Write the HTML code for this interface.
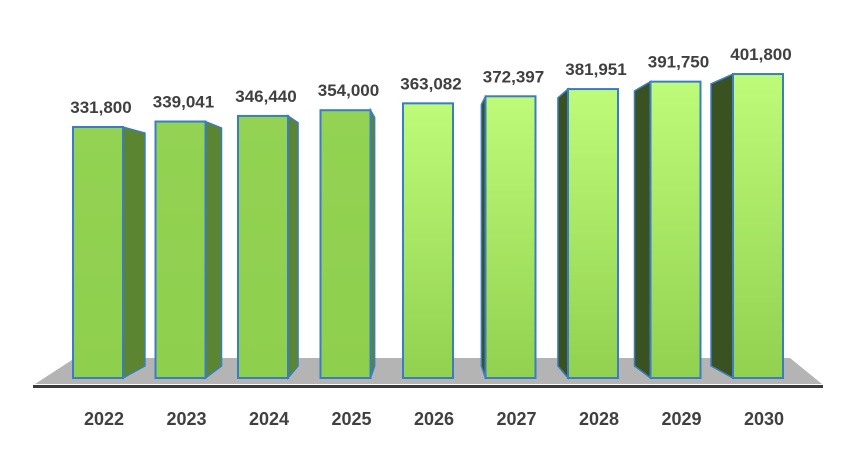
<!DOCTYPE html>
<html><head><meta charset="utf-8"><style>
body{margin:0;background:#fff}
svg{display:block;font-family:"Liberation Sans",Arial,sans-serif}
</style></head><body>
<svg id="chart" width="856" height="450" viewBox="0 0 856 450">
<defs>
<linearGradient id="gl" x1="0" y1="0" x2="0" y2="1"><stop offset="0" stop-color="#93d252"/><stop offset="1" stop-color="#8fcf4e"/></linearGradient>
<linearGradient id="gr" x1="0" y1="0" x2="0" y2="1"><stop offset="0" stop-color="#bdfb78"/><stop offset="1" stop-color="#92d050"/></linearGradient>
</defs>
<polygon points="75,358 790,358 822,384 35,384" fill="#b4b4b4"/>
<rect x="33" y="385" width="790" height="3" fill="#3a3a3a"/>
<g id="bars"></g>
</svg>
<script>
const categories=["2022","2023","2024","2025","2026","2027","2028","2029","2030"];
const values=[331800,339041,346440,354000,363082,372397,381951,391750,401800];
const valueLabels=["331,800","339,041","346,440","354,000","363,082","372,397","381,951","391,750","401,800"];
const base=378, scaleY=251/331800, x0=73, step=82.5, bw=50, vpx=428, vpy=211, s=0.072;
const yPos=v=>base-v*scaleY;
const xPos=i=>x0+i*step;
const g=document.getElementById('bars');
const NS='http://www.w3.org/2000/svg';
function back(x,y){return [x+(vpx-x)*s,y+(vpy-y)*s];}
categories.forEach((c,i)=>{
  const x=xPos(i), y=yPos(values[i]);
  const edge = (x+bw/2<vpx)? x+bw : x;
  if(Math.abs(x+bw/2-vpx)>8){
    const [bx1,by1]=back(edge,y),[bx2,by2]=back(edge,base);
    const side=document.createElementNS(NS,'polygon');
    
    
    side.setAttribute('points',`${edge},${y} ${bx1},${by1} ${bx2},${by2} ${edge},${base}`);
    side.setAttribute('fill',edge===x+bw?'#5c8532':'#3a5222');
    side.setAttribute('stroke','#3a7dc4');side.setAttribute('stroke-width','1.5');
    g.appendChild(side);
  }
  const r=document.createElementNS(NS,'rect');
  
  
  r.setAttribute('x',x);r.setAttribute('y',y);r.setAttribute('width',bw);r.setAttribute('height',base-y);
  r.setAttribute('fill',i<4?'url(#gl)':'url(#gr)');
  r.setAttribute('stroke','#3a7dc4');r.setAttribute('stroke-width','2');
  g.appendChild(r);
  const t=document.createElementNS(NS,'text');
  
  
  t.setAttribute('x',x+bw/2+3);t.setAttribute('y',y-14);
  t.setAttribute('text-anchor','middle');t.setAttribute('font-size','17');t.setAttribute('font-weight','bold');t.setAttribute('fill','#404040');
  t.textContent=valueLabels[i];g.appendChild(t);
  const l=document.createElementNS(NS,'text');
  
  
  l.setAttribute('x',x+bw/2+6);l.setAttribute('y',425);
  l.setAttribute('text-anchor','middle');l.setAttribute('font-size','18');l.setAttribute('font-weight','bold');l.setAttribute('fill','#404040');
  l.textContent=c;g.appendChild(l);
});
</script>
</body></html>
